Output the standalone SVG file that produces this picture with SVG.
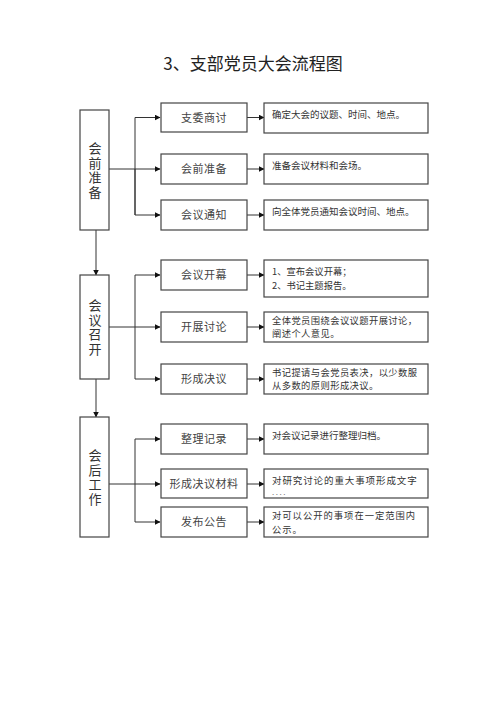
<svg xmlns="http://www.w3.org/2000/svg" width="500" height="706" viewBox="0 0 500 706">
<defs>
<marker id="ah" markerWidth="6" markerHeight="6" refX="5.5" refY="3" orient="auto" markerUnits="userSpaceOnUse">
<path d="M0,0 L6,3 L0,6 Z" fill="#111"/>
</marker>
<style>
rect{fill:#fff;stroke:#444;stroke-width:1.2}
.c line,.c polyline{stroke:#333;stroke-width:1;fill:none}
.a{marker-end:url(#ah)}
text{font-family:"Noto Sans CJK SC","Noto Sans",sans-serif;fill:#333}
.t{font-size:17px;fill:#222;text-anchor:middle}
.v{font-size:13px;text-anchor:middle;writing-mode:vertical-rl;letter-spacing:1.5px}
.m{font-size:11px;text-anchor:middle;letter-spacing:0.5px;fill:#444}
.r{font-size:9.5px}
.r2{font-size:9.3px}
</style>
</defs>
<rect width="500" height="706" style="fill:#fff;stroke:none"/>
<text class="t" x="253" y="70">3、支部党员大会流程图</text>

<g class="c">
<line class="a" x1="96" y1="230" x2="96" y2="275"/>
<line class="a" x1="96" y1="379" x2="96" y2="417"/>
<polyline class="a" points="135,215 135,117.5 160,117.5"/>
<line class="a" x1="109" y1="169" x2="160" y2="169"/>
<polyline class="a" points="135,169 135,215 160,215"/>
<polyline class="a" points="135,327 135,275 160,275"/>
<line class="a" x1="109" y1="327" x2="160" y2="327"/>
<polyline class="a" points="135,327 135,379 160,379"/>
<polyline class="a" points="135,484 135,439 160,439"/>
<line class="a" x1="109" y1="484" x2="160" y2="484"/>
<polyline class="a" points="135,484 135,522 160,522"/>
<line class="a" x1="247" y1="117.5" x2="264" y2="117.5"/>
<line class="a" x1="247" y1="169" x2="264" y2="169"/>
<line class="a" x1="247" y1="215" x2="264" y2="215"/>
<line class="a" x1="247" y1="275" x2="264" y2="275"/>
<line class="a" x1="247" y1="327" x2="264" y2="327"/>
<line class="a" x1="247" y1="379" x2="264" y2="379"/>
<line class="a" x1="247" y1="439" x2="264" y2="439"/>
<line class="a" x1="247" y1="484" x2="264" y2="484"/>
<line class="a" x1="247" y1="522" x2="264" y2="522"/>
</g>

<g id="s1"><rect x="80" y="110" width="29" height="120"/>
<text class="v" x="95" y="171">会前准备</text></g>
<g id="s2"><rect x="80" y="275" width="29" height="104"/>
<text class="v" x="95" y="328">会议召开</text></g>
<g id="s3"><rect x="80" y="417" width="29" height="120"/>
<text class="v" x="95" y="478">会后工作</text></g>

<g id="m1"><rect x="161" y="103" width="86" height="29"/><text class="m" x="204" y="121.5">支委商讨</text></g>
<g id="m2"><rect x="161" y="154" width="86" height="30"/><text class="m" x="204" y="173">会前准备</text></g>
<g id="m3"><rect x="161" y="200" width="86" height="30"/><text class="m" x="204" y="219">会议通知</text></g>
<g id="m4"><rect x="161" y="260" width="86" height="30"/><text class="m" x="204" y="279">会议开幕</text></g>
<g id="m5"><rect x="161" y="312" width="86" height="30"/><text class="m" x="204" y="331">开展讨论</text></g>
<g id="m6"><rect x="161" y="364" width="86" height="30"/><text class="m" x="204" y="383">形成决议</text></g>
<g id="m7"><rect x="161" y="424" width="86" height="30"/><text class="m" x="204" y="443">整理记录</text></g>
<g id="m8"><rect x="161" y="469" width="86" height="29"/><text class="m" x="204" y="488">形成决议材料</text></g>
<g id="m9"><rect x="161" y="507" width="86" height="30"/><text class="m" x="204" y="526">发布公告</text></g>

<g id="r1"><rect x="264" y="103" width="164" height="30"/><text class="r" x="272" y="118">确定大会的议题、时间、地点。</text></g>
<g id="r2"><rect x="264" y="154" width="164" height="30"/><text class="r" x="272" y="169">准备会议材料和会场。</text></g>
<g id="r3"><rect x="264" y="200" width="164" height="30"/><text class="r" x="272" y="215">向全体党员通知会议时间、地点。</text></g>
<g id="r4"><rect x="264" y="260" width="164" height="37"/><text class="r2"><tspan x="272" y="275">1、宣布会议开幕；</tspan><tspan x="272" y="288.5">2、书记主题报告。</tspan></text></g>
<g id="r5"><rect x="264" y="312" width="164" height="30"/><text class="r2" style="letter-spacing:0.4px"><tspan x="272" y="323.5">全体党员围绕会议议题开展讨论，</tspan><tspan x="272" y="337">阐述个人意见。</tspan></text></g>
<g id="r6"><rect x="264" y="364" width="164" height="30"/><text class="r2" style="letter-spacing:0.4px"><tspan x="272" y="375.5">书记提请与会党员表决，以少数服</tspan><tspan x="272" y="389">从多数的原则形成决议。</tspan></text></g>
<g id="r7"><rect x="264" y="424" width="164" height="30"/><text class="r" x="272" y="439">对会议记录进行整理归档。</text></g>
<g id="r8"><rect x="264" y="469" width="164" height="29"/><text class="r" style="letter-spacing:0.9px" x="272" y="484">对研究讨论的重大事项形成文字</text><text x="272" y="495" style="font-size:8px;fill:#777;letter-spacing:1.5px">....</text></g>
<g id="r9"><rect x="264" y="507" width="164" height="30"/><text class="r2" style="letter-spacing:1px"><tspan x="272" y="519">对可以公开的事项在一定范围内</tspan><tspan x="272" y="532.5">公示。</tspan></text></g>
</svg>
